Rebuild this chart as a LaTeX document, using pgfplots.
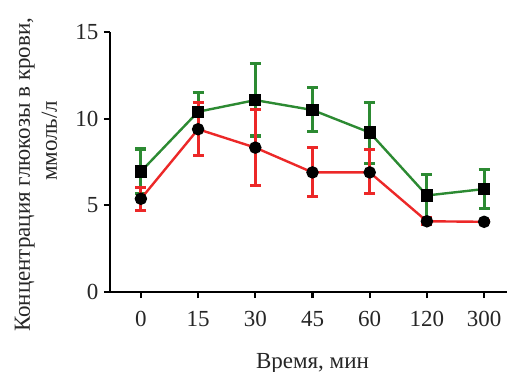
\documentclass[border=0pt]{standalone}
\usepackage{fontspec}
\setmainfont{Liberation Serif}
\usepackage{pgfplots}
\pgfplotsset{compat=1.18}
\definecolor{gr}{RGB}{44,138,50}
\definecolor{rd}{RGB}{236,40,40}
\begin{document}
\begin{tikzpicture}
\begin{axis}[
  scale only axis, width=397bp, height=260bp,
  xmin=-0.54, xmax=6.4, ymin=0, ymax=15,
  axis x line*=bottom, axis y line*=left,
  axis line style={black, line width=2.4bp, -},
  xtick={0,1,2,3,4,5,6}, xticklabels={0,15,30,45,60,120,300},
  ytick={0,5,10,15},
  tick align=outside, major tick length=6bp,
  tick style={black, line width=2.2bp},
  /pgf/number format/assume math mode=true,
  ticklabel style={font=\fontsize{23bp}{26bp}\selectfont, text=black!85},
  xticklabel style={anchor=base, yshift=-28bp},
  yticklabel style={anchor=east, xshift=-2bp},
  label style={font=\fontsize{23bp}{27bp}\selectfont, text=black!85},
  xlabel={Время, мин},
  xlabel style={at={(axis description cs:0.51,0)}, anchor=base, yshift=-76bp},
  ylabel={Концентрация глюкозы в крови,\\\hspace*{68bp}ммоль/л},
  ylabel style={at={(axis description cs:-0.1864,0.451)}, anchor=center, align=center},
  clip=false,
]
\addplot[gr, line width=2.4bp, mark=square*, mark size=5bp,
  mark options={fill=black, draw=black},
  error bars/.cd, y dir=both, y explicit,
  error bar style={gr, line width=3bp},
  error mark options={gr, rotate=90, mark size=5.5bp, line width=3bp}]
  table[x=x, y=y, y error plus=ep, y error minus=em] {
x y ep em
0 6.95 1.30 1.25
1 10.40 1.10 1.10
2 11.07 2.11 2.07
3 10.50 1.28 1.25
4 9.20 1.74 1.80
5 5.57 1.23 1.25
6 5.94 1.15 1.14
};
\addplot[rd, line width=2.4bp, mark=*, mark size=5bp,
  mark options={fill=black, draw=black},
  error bars/.cd, y dir=both, y explicit,
  error bar style={rd, line width=3bp},
  error mark options={rd, rotate=90, mark size=5.5bp, line width=3bp}]
  table[x=x, y=y, y error plus=ep, y error minus=em] {
x y ep em
0 5.38 0.65 0.67
1 9.39 1.53 1.53
2 8.33 2.21 2.18
3 6.90 1.46 1.38
4 6.90 1.30 1.23
5 4.08 0.20 0.20
6 4.05 0.05 0.05
};
\end{axis}
\pgfresetboundingbox
\path[use as bounding box] (current axis.south west) ++(-110bp,-80bp) rectangle ++(507bp,372bp);
\end{tikzpicture}
\end{document}
